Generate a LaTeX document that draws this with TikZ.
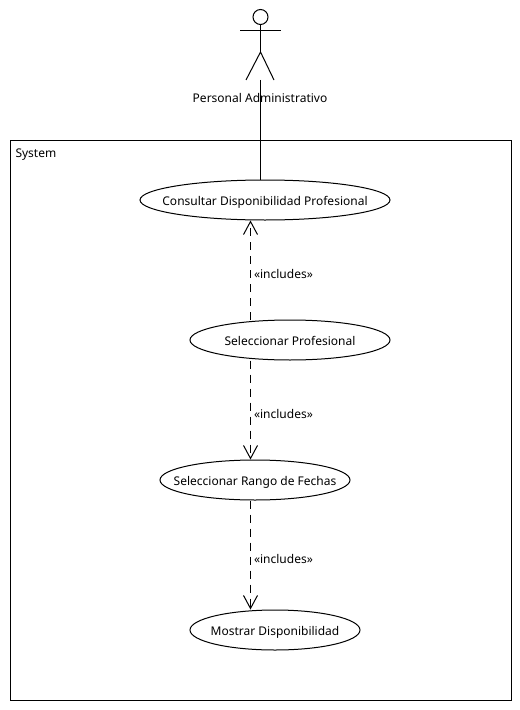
\documentclass[tikz,border=0pt]{standalone}
\usepackage{fontspec}
\setmainfont{Noto Sans}
\usetikzlibrary{arrows.meta,shapes.geometric}
\newcommand{\uctext}[1]{\raisebox{-3.75pt}[0pt][0pt]{\makebox[0pt]{#1}}}
\tikzset{
  usecase/.style={draw,ellipse,fill=white,inner sep=0pt,minimum height=30pt,line width=0.75pt},
  includes/.style={draw,dash pattern=on 6pt off 4.5pt,line width=0.75pt,-{Straight Barb[length=9.75pt,width=10.5pt,line width=0.75pt]}},
  stereo/.style={right,inner sep=0pt,font=\fontsize{9}{11}\selectfont},
}
\begin{document}
\begin{tikzpicture}[x=0.75pt,y=-0.75pt,line width=0.75pt,font=\fontsize{9}{11}\selectfont]
    \useasboundingbox (0,0) rectangle (520,710);

    % Marco del sistema
    \draw (10.5,140.5) rectangle (511,700);
    \node[right,inner sep=0pt] (system) at (15,154.5) {System};

    % Actor
    \node[draw,circle,inner sep=0pt,minimum size=11.25pt] (head) at (260.5,17) {};
    \coordinate (hip) at (260.5,52);
    \coordinate (feet) at (260.5,80);
    \draw (head.south) -- (hip);
    \draw (240,31) -- (281,31);
    \draw (246,80) -- (hip) -- (274,80);
    \node (actor) at (260,98) {Personal Administrativo};

    % Casos de uso
    \node[usecase,minimum width=187.5pt] (consultar) at (265,200) {\uctext{Consultar Disponibilidad Profesional}};
    \node[usecase,minimum width=150pt] (profesional) at (290,340) {\uctext{Seleccionar Profesional}};
    \node[usecase,minimum width=142.5pt] (rango) at (255,480) {\uctext{Seleccionar Rango de Fechas}};
    \node[usecase,minimum width=127.5pt] (mostrar) at (275,630) {\uctext{Mostrar Disponibilidad}};

    % Conexiones
    \coordinate (axis) at (250.5,0);
    \draw (feet) -- (consultar.north -| feet);
    \draw[includes] (profesional.north -| axis) -- (consultar.south -| axis);
    \draw[includes] (profesional.south -| axis) -- (rango.north -| axis);
    \draw[includes] (rango.south -| axis) -- (mostrar.north -| axis);

    % Etiquetas
    \node[stereo] (incA) at (253.5,274) {«includes»};
    \node[stereo] (incB) at (253.5,414) {«includes»};
    \node[stereo] (incC) at (253.5,559) {«includes»};
  \end{tikzpicture}
\end{document}
